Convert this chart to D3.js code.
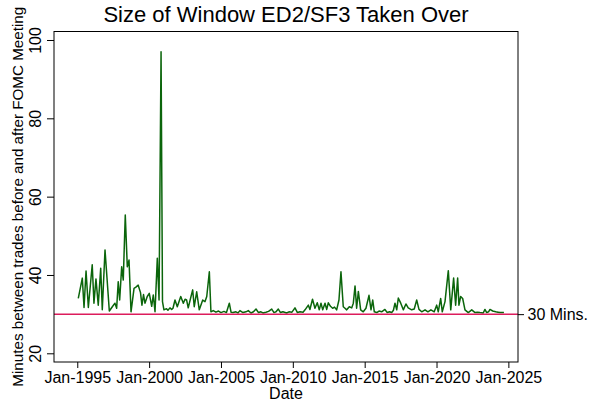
<!DOCTYPE html>
<html>
<head>
<meta charset="utf-8">
<script src="https://cdn.jsdelivr.net/npm/d3@7"></script>
<style>
  body { margin: 0; background: #fff; }
  svg { font-family: "Liberation Sans", Arial, Helvetica, sans-serif; }
  .axis text { font-size: 16px; fill: #000; }
  .axis line { stroke: #000; }
</style>
</head>
<body>
<svg id="chart" width="595" height="407"></svg>
<script>
// values (decimal year of meeting, window size in minutes)
const dates = [
  1995.07, 1995.35, 1995.47, 1995.61, 1995.77, 1996.04, 1996.16, 1996.30, 1996.46, 1996.63,
  1996.74, 1996.93, 1997.23, 1997.44, 1997.62, 1997.74, 1997.85, 1997.95, 1998.09, 1998.20,
  1998.34, 1998.48, 1998.60, 1998.74, 1998.95, 1999.08, 1999.24, 1999.40, 1999.50, 1999.61,
  1999.71, 1999.87, 2000.01, 2000.18, 2000.29, 2000.41, 2000.57, 2000.69, 2000.83, 2000.93,
  2001.03, 2001.21, 2001.31, 2001.45, 2001.57, 2001.66, 2001.80, 2001.96, 2002.20, 2002.38,
  2002.50, 2002.61, 2002.72, 2002.88, 2003.03, 2003.14, 2003.31, 2003.49, 2003.73, 2003.89,
  2004.01, 2004.19, 2004.30, 2004.46, 2004.65, 2004.83, 2005.00, 2005.21, 2005.38, 2005.58,
  2005.70, 2005.84, 2006.04, 2006.18, 2006.32, 2006.53, 2006.74, 2006.90, 2007.09, 2007.26,
  2007.44, 2007.61, 2007.78, 2007.92, 2008.13, 2008.31, 2008.53, 2008.69, 2008.83, 2008.99,
  2009.14, 2009.31, 2009.57, 2009.73, 2009.94, 2010.15, 2010.32, 2010.50, 2010.71, 2010.85,
  2011.08, 2011.19, 2011.37, 2011.54, 2011.70, 2011.84, 2011.96, 2012.08, 2012.24, 2012.36,
  2012.47, 2012.62, 2012.77, 2012.90, 2013.05, 2013.21, 2013.35, 2013.51, 2013.63, 2013.75,
  2013.93, 2014.10, 2014.21, 2014.33, 2014.44, 2014.56, 2014.72, 2014.90, 2015.09, 2015.30,
  2015.44, 2015.56, 2015.67, 2015.84, 2016.00, 2016.18, 2016.41, 2016.57, 2016.73, 2016.88,
  2017.00, 2017.11, 2017.23, 2017.34, 2017.51, 2017.69, 2017.87, 2018.03, 2018.27, 2018.45,
  2018.62, 2018.78, 2018.97, 2019.20, 2019.40, 2019.61, 2019.84, 2020.01, 2020.12, 2020.29,
  2020.40, 2020.59, 2020.82, 2020.99, 2021.19, 2021.33, 2021.47, 2021.56, 2021.68, 2021.82,
  2021.98, 2022.21, 2022.45, 2022.68, 2022.85, 2023.02, 2023.25, 2023.37, 2023.49, 2023.62,
  2023.72, 2023.91, 2024.12, 2024.28, 2024.42, 2024.56, 2024.69
];
const minutes = [
  34.0, 39.2, 31.7, 41.0, 31.7, 42.6, 32.8, 39.0, 32.3, 41.7,
  31.1, 46.4, 30.8, 31.9, 32.8, 31.5, 38.3, 33.6, 42.1, 38.7,
  55.3, 42.1, 43.8, 30.6, 36.6, 36.9, 37.4, 35.5, 32.3, 35.0,
  32.8, 34.5, 35.3, 32.0, 34.9, 30.6, 44.3, 33.6, 97.0, 33.2,
  31.1, 31.4, 31.0, 31.6, 31.2, 31.5, 33.6, 31.9, 34.5, 32.8,
  33.8, 33.6, 31.6, 34.0, 36.2, 31.9, 35.7, 31.1, 33.6, 33.2,
  34.5, 40.8, 30.6, 30.9, 30.5, 30.8, 30.4, 30.7, 30.4, 32.8,
  30.5, 30.4, 30.6, 30.3, 30.9, 30.4, 30.6, 30.9, 30.3, 30.6,
  31.3, 30.4, 30.6, 30.3, 30.5, 30.7, 31.3, 30.4, 30.6, 31.3,
  30.4, 30.6, 30.3, 30.6, 30.5, 31.6, 30.4, 30.6, 30.5, 31.1,
  32.3, 31.2, 33.8, 31.5, 32.9, 31.1, 32.8, 31.1, 32.8, 31.2,
  32.9, 32.0, 31.5, 31.8, 31.1, 33.6, 40.8, 31.9, 31.5, 31.1,
  31.9, 31.6, 32.8, 37.2, 31.5, 35.8, 31.1, 30.6, 31.5, 34.8,
  31.1, 33.6, 30.6, 30.4, 30.8, 30.6, 31.2, 30.4, 30.6, 30.4,
  31.0, 32.8, 31.1, 34.1, 32.8, 31.1, 32.6, 31.6, 31.1, 31.3,
  33.6, 31.2, 30.6, 31.1, 30.6, 31.1, 30.6, 32.3, 30.6, 34.0,
  30.6, 33.2, 41.1, 31.1, 39.2, 32.3, 39.2, 32.3, 34.5, 34.0,
  31.1, 30.4, 31.1, 30.4, 30.5, 30.4, 30.3, 31.2, 30.4, 30.6,
  31.2, 30.8, 30.6, 30.5, 30.4, 30.4, 30.4
];
const xTicks = [1995, 2000, 2005, 2010, 2015, 2020, 2025];
const yTicks = [20, 40, 60, 80, 100];
const threshold = 30;
const thresholdLabel = "30 Mins.";

const svg = d3.select("#chart");
const plot = { left: 54, right: 518, top: 31.5, bottom: 362 };

const x = d3.scaleLinear().domain([1993.38, 2025.67]).range([plot.left, plot.right]);
const y = d3.scaleLinear().domain([17.78, 102.17]).range([plot.bottom, plot.top]);

// title
svg.append("text")
  .attr("x", (plot.left + plot.right) / 2)
  .attr("y", 22)
  .attr("text-anchor", "middle")
  .attr("font-size", "22px")
  .text("Size of Window ED2/SF3 Taken Over");

// x axis
const xAxis = svg.append("g")
  .attr("class", "axis")
  .attr("transform", `translate(0,${plot.bottom})`)
  .call(d3.axisBottom(x).tickValues(xTicks).tickFormat(d => "Jan-" + d).tickSize(6));
xAxis.select(".domain").remove();
xAxis.selectAll("text").attr("y", 9.5);

// y axis, labels parallel to the axis
const yAxis = svg.append("g")
  .attr("class", "axis")
  .attr("transform", `translate(${plot.left},0)`)
  .call(d3.axisLeft(y).tickValues(yTicks).tickSize(7));
yAxis.select(".domain").remove();
yAxis.selectAll("text")
  .attr("transform", "rotate(-90)")
  .attr("x", 0)
  .attr("y", -13.5)
  .attr("dy", 0)
  .attr("text-anchor", "middle");

// right tick for the threshold
const rAxis = svg.append("g")
  .attr("class", "axis")
  .attr("transform", `translate(${plot.right},0)`)
  .call(d3.axisRight(y).tickValues([threshold]).tickFormat(() => thresholdLabel).tickSize(6));
rAxis.select(".domain").remove();
rAxis.selectAll("text").attr("x", 9.5);

// axis titles
svg.append("text")
  .attr("transform", `translate(23,${(plot.top + plot.bottom) / 2}) rotate(-90)`)
  .attr("text-anchor", "middle")
  .attr("font-size", "15.2px")
  .text("Minutes between trades before and after FOMC Meeting");

svg.append("text")
  .attr("x", (plot.left + plot.right) / 2)
  .attr("y", 399)
  .attr("text-anchor", "middle")
  .attr("font-size", "16px")
  .text("Date");

// series line
const line = d3.line()
  .x((d, i) => x(dates[i]))
  .y(d => y(d));

svg.append("path")
  .datum(minutes)
  .attr("fill", "none")
  .attr("stroke", "#0b650b")
  .attr("stroke-width", 1.5)
  .attr("stroke-linejoin", "round")
  .attr("d", line);

// threshold line
svg.append("line")
  .attr("x1", plot.left).attr("x2", plot.right)
  .attr("y1", y(threshold)).attr("y2", y(threshold))
  .attr("stroke", "#dc1c5c")
  .attr("stroke-width", 1.5);

// frame
svg.append("rect")
  .attr("x", plot.left).attr("y", plot.top)
  .attr("width", plot.right - plot.left)
  .attr("height", plot.bottom - plot.top)
  .attr("fill", "none")
  .attr("stroke", "#000")
  .attr("stroke-width", 1);
</script>
</body>
</html>
